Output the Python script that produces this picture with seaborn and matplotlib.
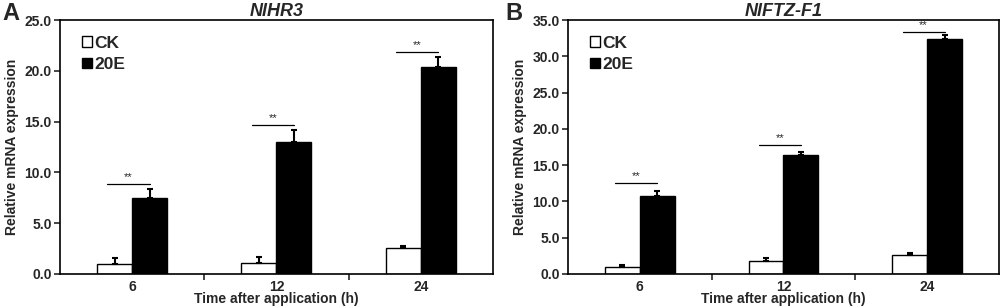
import matplotlib
matplotlib.use("Agg")
import matplotlib.pyplot as plt
import seaborn as sns
import pandas as pd
from matplotlib.patches import Patch

times = ["6", "12", "24"]
groups = ["CK", "20E"]

a_ck = [0.98, 1.12, 2.53]
a_ck_err = [0.56, 0.58, 0.26]
a_20e = [7.5, 12.99, 20.37]
a_20e_err = [0.87, 1.21, 1.02]
a_sig = [8.89, 14.63, 21.82]

b_ck = [1.01, 1.84, 2.66]
b_ck_err = [0.28, 0.41, 0.19]
b_20e = [10.79, 16.35, 32.34]
b_20e_err = [0.65, 0.51, 0.64]
b_sig = [12.49, 17.73, 33.3]

titles = ["NlHR3", "NlFTZ-F1"]
panel_labels = ["A", "B"]
ymaxes = [25.0, 35.0]
ysteps = [5.0, 5.0]

sns.set_style("white")
plt.rcParams['font.family'] = ['Liberation Sans', 'DejaVu Sans']
plt.rcParams['font.weight'] = 'bold'

fig = plt.figure(figsize=(10.03, 3.08), dpi=100)
axA = fig.add_axes([0.0598, 0.1104, 0.4317, 0.8246])
axB = fig.add_axes([0.5663, 0.1104, 0.4297, 0.8246])

datasets = [
    (a_ck, a_ck_err, a_20e, a_20e_err, a_sig),
    (b_ck, b_ck_err, b_20e, b_20e_err, b_sig),
]

for i, (ax, (ck, cke, te, tee, sig)) in enumerate(zip([axA, axB], datasets)):
    df = pd.DataFrame({
        "time": times * 2,
        "group": ["CK"] * 3 + ["20E"] * 3,
        "value": ck + te,
        "err": cke + tee,
    })
    sns.barplot(data=df, x="time", y="value", hue="group", order=times,
                hue_order=groups, palette={"CK": "white", "20E": "black"},
                edgecolor="black", linewidth=1.0, width=0.485, errorbar=None,
                ax=ax, legend=False)
    # error bars (upper only)
    for cont, vals, errs in zip(ax.containers, [ck, te], [cke, tee]):
        xs = [p.get_x() + p.get_width() / 2 for p in cont.patches]
        ax.errorbar(xs, vals, yerr=[[0] * len(vals), errs], fmt="none",
                    ecolor="black", elinewidth=1.5, capsize=2.5, capthick=1.5)
    # significance lines
    ck_x = [p.get_x() + p.get_width() / 2 for p in ax.containers[0].patches]
    te_x = [p.get_x() + p.get_width() / 2 for p in ax.containers[1].patches]
    for x0, x1, s in zip(ck_x, te_x, sig):
        xa = x0 - 0.05
        xb = x1
        ax.plot([xa, xb], [s, s], color="black", lw=0.9)
        ax.text((xa + xb) / 2, s + ymaxes[i] * 0.008, "**", ha="center",
                va="bottom", fontsize=8, fontweight="normal")

    ax.set_xlim(-0.5, 2.5)
    ax.set_ylim(0, ymaxes[i])
    yt = [k * ysteps[i] for k in range(int(ymaxes[i] / ysteps[i]) + 1)]
    ax.set_yticks(yt)
    ax.set_yticklabels([f"{v:.1f}" for v in yt], fontsize=10, fontweight="bold")
    ax.set_xticks([0, 1, 2])
    ax.set_xticklabels(times, fontsize=10, fontweight="bold")
    ax.tick_params(axis="x", length=0, pad=4)
    ax.set_xticks([0.5, 1.5], minor=True)
    ax.tick_params(axis="x", which="minor", length=4, width=1.2, direction="out", bottom=True)
    ax.tick_params(axis="y", length=4, width=1.2, direction="out", left=True, pad=2)
    for sp in ax.spines.values():
        sp.set_visible(True)
        sp.set_color("black")
        sp.set_linewidth(1.2)
    ax.set_xlabel("Time after application (h)", fontsize=10, fontweight="bold", labelpad=-1)
    ax.set_ylabel("Relative mRNA expression", fontsize=10, fontweight="bold", labelpad=4)
    ax.set_title(titles[i], fontsize=13, fontweight="bold", style="italic", pad=3)

    handles = [Patch(facecolor="white", edgecolor="black", lw=1.0),
               Patch(facecolor="black", edgecolor="black", lw=1.0)]
    leg = ax.legend(handles, groups, loc="upper left", frameon=False,
                    prop={"size": 12.5, "weight": "bold"}, handlelength=0.55,
                    handleheight=0.55, handletextpad=0.15, labelspacing=0.35,
                    bbox_to_anchor=(0.035, 0.965), borderaxespad=0)

fig.text(0.002, 0.995, "A", fontsize=17, fontweight="bold", va="top", ha="left")
fig.text(0.504, 0.995, "B", fontsize=17, fontweight="bold", va="top", ha="left")

fig.savefig("out.png", dpi=100)
